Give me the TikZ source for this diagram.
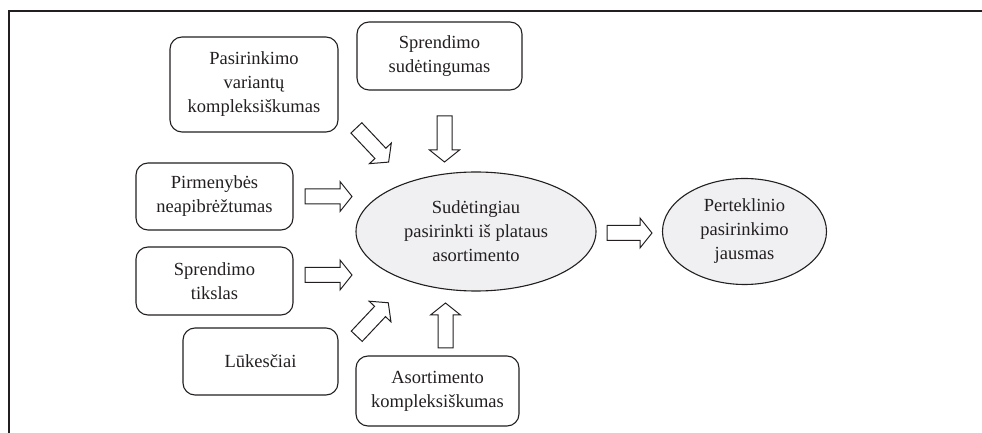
\documentclass[tikz,border=0pt]{standalone}
\usepackage{fontspec}
\setmainfont{Liberation Serif}
\definecolor{ink}{RGB}{35,31,32}
\definecolor{ellfill}{RGB}{240,240,242}
\tikzset{
  box/.style={draw=ink, line width=1.1bp, rounded corners=12bp, align=center, inner sep=0pt,
    font=\fontsize{18.5bp}{24bp}\selectfont, text=ink},
  oval/.style={draw=ink, line width=1.1bp, ellipse, fill=ellfill, align=center, inner sep=0pt,
    font=\fontsize{18.5bp}{24bp}\selectfont, text=ink},
  blockarr/.style={draw=ink, line width=1bp, fill=white, line join=miter},
}
\newcommand\blockarrow[3]{% center, angle (screen, ccw), length
  \begin{scope}[shift={#1}, rotate=#2]
    \draw[blockarr] ({-#3/2},-7.5) -- ({#3/2-12},-7.5) -- ({#3/2-12},-15) -- ({#3/2},0)
      -- ({#3/2-12},15) -- ({#3/2-12},7.5) -- ({-#3/2},7.5) -- cycle;
  \end{scope}}
\usetikzlibrary{shapes.geometric}
\begin{document}
\begin{tikzpicture}[x=1bp, y=-1bp]
\useasboundingbox (0,0) rectangle (982,433);
% frame
\draw[ink, line width=1.4bp] (9,433) -- (9,11) -- (982,11);
% boxes
\node[box, minimum width=168bp, minimum height=95bp] (b1) at (254,84.5) {Pasirinkimo\\variantų\\kompleksiškumas};
\node[box, minimum width=165bp, minimum height=68bp] (b2) at (439.5,56) {Sprendimo\\sudėtingumas};
\node[box, minimum width=157bp, minimum height=67bp] (b3) at (214.5,196.5) {Pirmenybės\\neapibrėžtumas};
\node[box, minimum width=157bp, minimum height=68bp] (b4) at (214.5,281) {Sprendimo\\tikslas};
\node[box, minimum width=155bp, minimum height=67bp] (b5) at (260.5,361.5) {Lūkesčiai};
\node[box, minimum width=163bp, minimum height=70bp] (b6) at (437.5,391) {Asortimento\\kompleksiškumas};
% ellipses
\node[oval, minimum width=240bp, minimum height=119bp] (e1) at (476,231.5) {Sudėtingiau\\pasirinkti iš plataus\\asortimento};
\node[oval, minimum width=164bp, minimum height=106bp] (e2) at (744.5,231.5) {Perteklinio\\pasirinkimo\\jausmas};
% block arrows
\blockarrow{(372.5,145)}{-46.7}{47}
\blockarrow{(444.5,139)}{-90}{46}
\blockarrow{(328.5,196.5)}{0}{47}
\blockarrow{(328.5,275)}{0}{47}
\blockarrow{(372.5,319.5)}{46.7}{46}
\blockarrow{(445.5,325.5)}{90}{45}
\blockarrow{(629.5,233)}{0}{45}
\end{tikzpicture}
\end{document}
